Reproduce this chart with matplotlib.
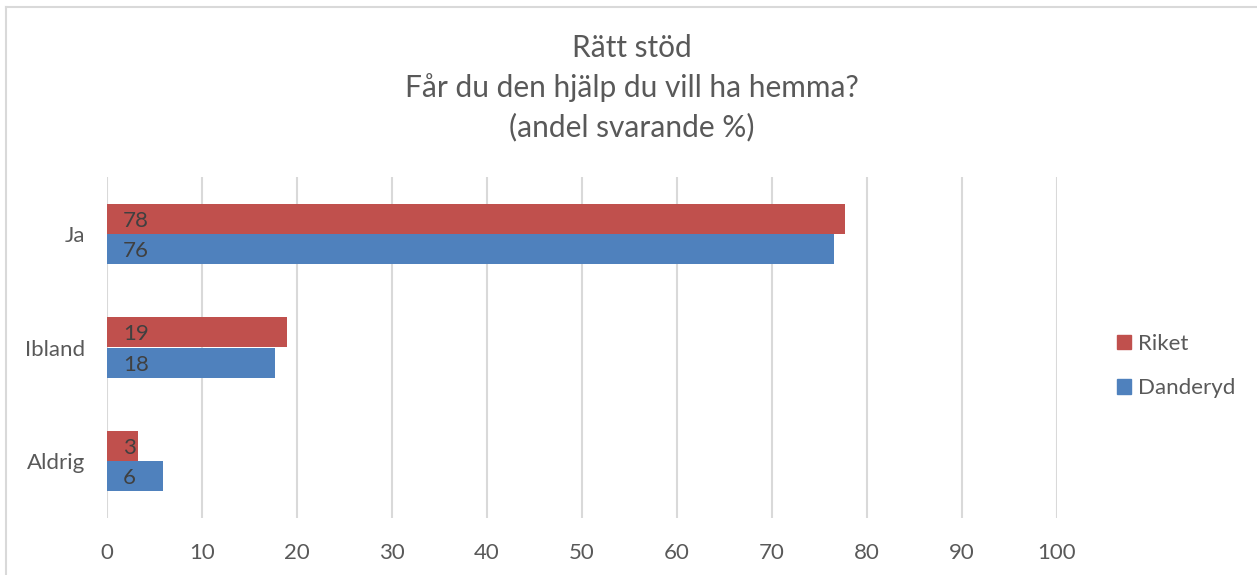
import matplotlib
matplotlib.use('Agg')
import matplotlib.pyplot as plt
from matplotlib.patches import Patch
import numpy as np

plt.rcParams['font.family'] = ['Lato', 'DejaVu Sans']

# data
categories = ['Ja', 'Ibland', 'Aldrig']
riket = [77.7, 18.9, 3.3]
danderyd = [76.5, 17.7, 5.85]
riket_labels = ['78', '19', '3']
danderyd_labels = ['76', '18', '6']
title = 'Rätt stöd\nFår du den hjälp du vill ha hemma?\n(andel svarande %)'

red = '#C0504D'
blue = '#4F81BD'
grey_text = '#595959'
label_text = '#404040'
grid_col = '#D9D9D9'

fig = plt.figure(figsize=(12.57, 5.75), dpi=100)
ax = fig.add_axes([107 / 1257, 1 - 518 / 575, 950 / 1257, 341 / 575])

y = np.arange(len(categories))[::-1]
h = 0.264
bars_r = ax.barh(y + h / 2, riket, height=h, color=red, zorder=3)
bars_d = ax.barh(y - h / 2, danderyd, height=h, color=blue, zorder=3)

# data labels, inside at the base
for bars, labels in ((bars_r, riket_labels), (bars_d, danderyd_labels)):
    for b, lab in zip(bars, labels):
        ax.annotate(lab, (0, b.get_y() + b.get_height() / 2),
                    xytext=(16, 0), textcoords='offset pixels',
                    ha='left', va='center_baseline', fontsize=16, color=label_text, zorder=4)

ax.set_xlim(0, 100)
ax.set_ylim(-0.5, 2.5)
ax.set_xticks(range(0, 101, 10))
ax.set_yticks(y)
ax.set_yticklabels(categories)
ax.grid(axis='x', color=grid_col, linewidth=1.5, zorder=0)
ax.grid(axis='y', visible=False)
for s in ax.spines.values():
    s.set_visible(False)
ax.tick_params(axis='both', length=0, labelsize=16, colors=grey_text)
ax.tick_params(axis='x', pad=18)
ax.tick_params(axis='y', pad=16)

fig.text(632 / 1257, 1 - 88 / 575, title, ha='center', va='center',
         fontsize=21.5, color=grey_text, linespacing=1.45)

handles = [Patch(color=red, label='Riket'), Patch(color=blue, label='Danderyd')]
fig.legend(handles=handles, loc='center left', bbox_to_anchor=(1117 / 1257, 1 - 366 / 575),
           frameon=False, fontsize=16, labelcolor=grey_text, handlelength=0.63,
           handleheight=0.63, handletextpad=0.3, labelspacing=1.1,
           borderpad=0, borderaxespad=0)

# chart border (top and left only visible)
fig.add_artist(plt.Line2D([6 / 1257, 1], [1 - 7 / 575, 1 - 7 / 575],
                          transform=fig.transFigure, color=grid_col, linewidth=1.5))
fig.add_artist(plt.Line2D([6 / 1257, 6 / 1257], [0, 1 - 7 / 575],
                          transform=fig.transFigure, color=grid_col, linewidth=1.5))

fig.savefig('out.png', dpi=100)
